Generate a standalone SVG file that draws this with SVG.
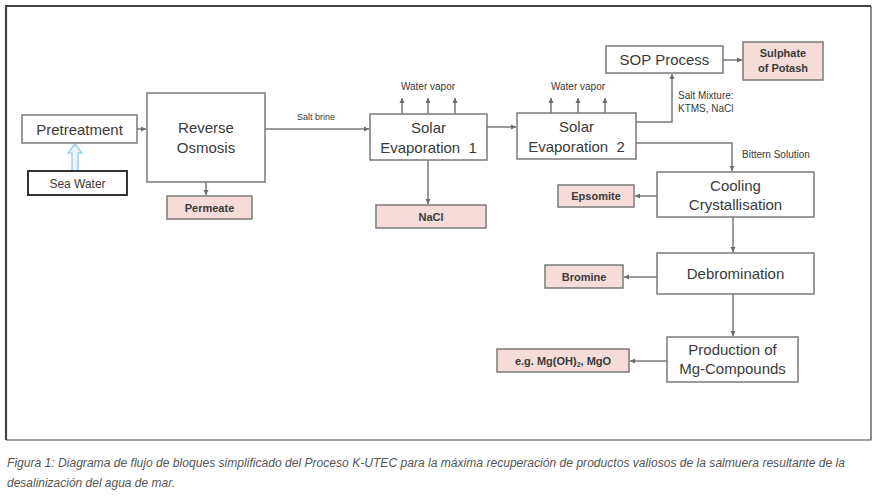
<svg xmlns="http://www.w3.org/2000/svg" width="876" height="496" viewBox="0 0 876 496">
<style>
.box{fill:#fff;stroke:#7a7a7a;stroke-width:1.5}
.prod{fill:#f5dcd9;stroke:#7a7a7a;stroke-width:1.5}
.t{font-family:"Liberation Sans",Arial,sans-serif;font-size:15px;fill:#3a3a3a;text-anchor:middle}
.p{font-family:"Liberation Sans",Arial,sans-serif;font-size:11px;font-weight:bold;fill:#3a3a3a;text-anchor:middle}
.s{font-family:"Liberation Sans",Arial,sans-serif;font-size:10px;fill:#3a3a3a}
.c{fill:none;stroke:#7a7a7a;stroke-width:1.5}
.cap{font-family:"Liberation Sans",Arial,sans-serif;font-style:italic;font-size:12px;fill:#555}
</style>
<defs>
<marker id="ah" markerWidth="6" markerHeight="6" refX="5" refY="3" orient="auto" markerUnits="userSpaceOnUse">
<path d="M0,0.5 L5,3 L0,5.5 Z" fill="#6a6a6a"/>
</marker>
</defs>
<rect width="876" height="496" fill="#fff"/>
<g id="frame">
<path d="M6,440 L6,6 L871,6" fill="none" stroke="#444" stroke-width="2.2"/>
<path d="M871,6 L871,440 L6,440" fill="none" stroke="#444" stroke-width="1.2"/>
</g>
<g id="connectors">
<line class="c" x1="137" y1="129" x2="146" y2="129" marker-end="url(#ah)"/>
<line class="c" x1="206" y1="182" x2="206" y2="195" marker-end="url(#ah)"/>
<line class="c" x1="265" y1="129" x2="369" y2="129" marker-end="url(#ah)"/>
<line class="c" x1="402" y1="114" x2="402" y2="98" marker-end="url(#ah)"/>
<line class="c" x1="428" y1="114" x2="428" y2="98" marker-end="url(#ah)"/>
<line class="c" x1="455" y1="114" x2="455" y2="98" marker-end="url(#ah)"/>
<line class="c" x1="428" y1="160" x2="428" y2="204" marker-end="url(#ah)"/>
<line class="c" x1="487" y1="127" x2="516" y2="127" marker-end="url(#ah)"/>
<line class="c" x1="551" y1="113" x2="551" y2="98" marker-end="url(#ah)"/>
<line class="c" x1="578" y1="113" x2="578" y2="98" marker-end="url(#ah)"/>
<line class="c" x1="605" y1="113" x2="605" y2="98" marker-end="url(#ah)"/>
<polyline class="c" points="636,122 672,122 672,74" marker-end="url(#ah)"/>
<line class="c" x1="723" y1="60" x2="742" y2="60" marker-end="url(#ah)"/>
<polyline class="c" points="636,143 732,143 732,171" marker-end="url(#ah)"/>
<line class="c" x1="657" y1="196" x2="635" y2="196" marker-end="url(#ah)"/>
<line class="c" x1="733" y1="217" x2="733" y2="252" marker-end="url(#ah)"/>
<line class="c" x1="657" y1="277" x2="624" y2="277" marker-end="url(#ah)"/>
<line class="c" x1="733" y1="294" x2="733" y2="336" marker-end="url(#ah)"/>
<line class="c" x1="667" y1="361" x2="630" y2="361" marker-end="url(#ah)"/>
<path d="M72,171 L72,153 L68,153 L75,144 L82,153 L78,153 L78,171 Z" fill="#eaf5fd" stroke="#9fd0f2" stroke-width="1.5"/>
<text class="s" x="316" y="120" text-anchor="middle" style="font-size:9px">Salt brine</text>
<text class="s" x="428" y="90" text-anchor="middle">Water vapor</text>
<text class="s" x="578" y="90" text-anchor="middle">Water vapor</text>
<text class="s" x="678" y="99">Salt Mixture:</text>
<text class="s" x="678" y="112">KTMS, NaCl</text>
<text class="s" x="742" y="158">Bittern Solution</text>
</g>
<g id="pretreatment"><rect class="box" x="22" y="115" width="115" height="28"/><text class="t" x="79.5" y="135">Pretreatment</text></g>
<g id="seawater"><rect x="28" y="171" width="99" height="24" fill="#fff" stroke="#333" stroke-width="2"/><text class="t" x="77.5" y="187.5" style="font-size:12px">Sea Water</text></g>
<g id="ro"><rect class="box" x="147" y="93" width="118" height="89"/><text class="t" x="206" y="133">Reverse</text><text class="t" x="206" y="153">Osmosis</text></g>
<g id="permeate"><rect class="prod" x="167" y="196" width="85" height="23"/><text class="p" x="209.5" y="211.5">Permeate</text></g>
<g id="se1"><rect class="box" x="370" y="114" width="117" height="46"/><text class="t" x="428.5" y="133">Solar</text><text class="t" x="428.5" y="153" xml:space="preserve">Evaporation  1</text></g>
<g id="nacl"><rect class="prod" x="376" y="205" width="110" height="23"/><text class="p" x="431" y="220.5">NaCl</text></g>
<g id="se2"><rect class="box" x="517" y="113" width="119" height="46"/><text class="t" x="576.5" y="132">Solar</text><text class="t" x="576.5" y="152" xml:space="preserve">Evaporation  2</text></g>
<g id="sop"><rect class="box" x="606" y="46" width="117" height="27"/><text class="t" x="664.5" y="65">SOP Process</text></g>
<g id="sulphate"><rect class="prod" x="743" y="42" width="80" height="38"/><text class="p" x="783" y="57">Sulphate</text><text class="p" x="783" y="72">of Potash</text></g>
<g id="cooling"><rect class="box" x="657" y="172" width="157" height="45"/><text class="t" x="735.5" y="191">Cooling</text><text class="t" x="735.5" y="210">Crystallisation</text></g>
<g id="epsomite"><rect class="prod" x="558" y="185" width="76" height="22"/><text class="p" x="596" y="200">Epsomite</text></g>
<g id="debromination"><rect class="box" x="657" y="253" width="157" height="41"/><text class="t" x="735.5" y="279">Debromination</text></g>
<g id="bromine"><rect class="prod" x="545" y="265" width="78" height="23"/><text class="p" x="584" y="281">Bromine</text></g>
<g id="mgprod"><rect class="box" x="667" y="337" width="131" height="45"/><text class="t" x="732.5" y="355">Production of</text><text class="t" x="732.5" y="374">Mg-Compounds</text></g>
<g id="mgo"><rect class="prod" x="497" y="349" width="132" height="23"/><text class="p" x="563" y="364.5">e.g. Mg(OH)<tspan font-size="7px" dy="2">2</tspan><tspan dy="-2">, MgO</tspan></text></g>
<g id="caption">
<text class="cap" x="7" y="467" textLength="838" lengthAdjust="spacingAndGlyphs">Figura 1: Diagrama de flujo de bloques simplificado del Proceso K-UTEC para la máxima recuperación de productos valiosos de la salmuera resultante de la</text>
<text class="cap" x="7" y="487" textLength="168" lengthAdjust="spacingAndGlyphs">desalinización del agua de mar.</text>
</g>
</svg>
